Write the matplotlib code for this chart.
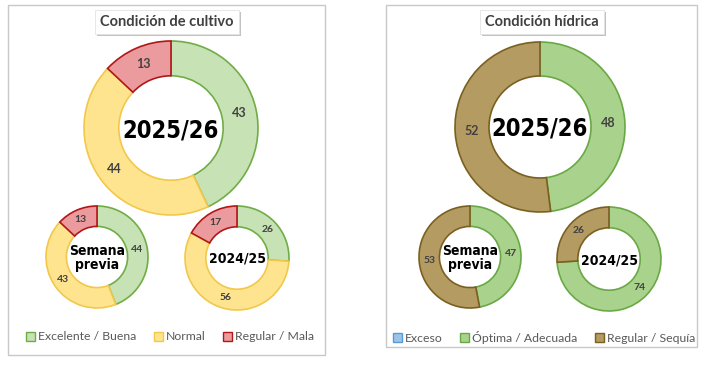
import matplotlib
matplotlib.use("Agg")
import numpy as np
import matplotlib.pyplot as plt
from matplotlib.patches import Rectangle, Patch
from matplotlib import font_manager as fm
import matplotlib.patheffects as pe

# ---------------- data ----------------
cult_labels = ["Excelente / Buena", "Normal", "Regular / Mala"]
cult_2526 = [43, 44, 13]
cult_prev = [44, 43, 13]
cult_2425 = [26, 57, 17]
cult_2425_text = ["26", "56", "17"]

hid_labels = ["Exceso", "Óptima / Adecuada", "Regular / Sequía"]
hid_2526 = [0, 48, 52]
hid_prev = [0, 47, 53]
hid_2425 = [0, 74, 26]

titles = ["Condición de cultivo", "Condición hídrica"]
center_texts = ["2025/26", "Semana\nprevia", "2024/25"]

cult_face = ["#c7e2b4", "#ffe48f", "#eb9b9d"]
cult_edge = ["#70ad47", "#f2c84b", "#b01818"]
hid_face = ["#9dc3e6", "#a9d38c", "#b49b62"]
hid_edge = ["#5b9bd5", "#6aa846", "#7a6020"]

names = {f.name for f in fm.fontManager.ttflist}
def pick(*c):
    for x in c:
        if x in names:
            return x
    return "DejaVu Sans"
TXT = pick("Lato", "Open Sans", "DejaVu Sans")

W, H = 707, 365
fig = plt.figure(figsize=(W / 100, H / 100), dpi=100)
ax = fig.add_axes([0, 0, 1, 1])

def Y(y):
    return H - y

INNER = 0.6

def donut(vals, face, edge, cx, cy, r, fs, fw, txts=None):
    if txts is None:
        txts = [str(v) for v in vals]
    items = [(v, f, e, t) for v, f, e, t in zip(vals, face, edge, txts) if v > 0]
    v = [a[0] for a in items]
    wedges, _ = ax.pie(v, colors=[a[1] for a in items], startangle=90,
                       counterclock=False, center=(cx, Y(cy)), radius=r,
                       wedgeprops=dict(width=r * (1 - INNER), linewidth=1.2),
                       frame=True)
    for w, a in zip(wedges, items):
        w.set_edgecolor(a[2])
    tot = sum(v)
    ang = 90.0
    rr = r * (1 + INNER) / 2
    for val, a in zip(v, items):
        mid = ang - 360.0 * val / tot / 2
        ang -= 360.0 * val / tot
        ax.text(cx + rr * np.cos(np.radians(mid)), Y(cy) + rr * np.sin(np.radians(mid)),
                a[3], ha="center", va="center", fontsize=fs, color="#404040",
                fontweight=fw, family=TXT)

def center(txt, cx, cy, fs):
    ax.text(cx, Y(cy), txt, ha="center", va="center", fontsize=fs,
            fontweight="bold", family="DejaVu Sans", fontstretch="condensed",
            color="black", linespacing=1.05)

def panel(x0, y0, x1, y1):
    ax.add_patch(Rectangle((x0, Y(y1)), x1 - x0, y1 - y0, facecolor="white",
                           edgecolor="#c8c8c8", linewidth=1.0, zorder=0))

def title(txt, cx, cy):
    t = ax.text(cx, Y(cy), txt, ha="center", va="center", fontsize=10.5,
                color="#404040", family=TXT, fontweight="bold",
                bbox=dict(boxstyle="square,pad=0.35", facecolor="white",
                          edgecolor="#e3e3e3", linewidth=0.6), zorder=4)
    t.get_bbox_patch().set_path_effects(
        [pe.SimplePatchShadow(offset=(1.5, -1.5), shadow_rgbFace="#9a9a9a", alpha=0.6),
         pe.Normal()])

# panels
panel(8, 5, 325, 355)
panel(386, 5, 697, 347)

# left panel
title(titles[0], 167, 22)
donut(cult_2526, cult_face, cult_edge, 171, 128, 87, 9, "bold")
center(center_texts[0], 171, 130, 17)
donut(cult_prev, cult_face, cult_edge, 97, 257, 51, 7.5, "bold")
center(center_texts[1], 97, 258, 10)
donut(cult_2425, cult_face, cult_edge, 237, 258, 52, 7.5, "bold", cult_2425_text)
center(center_texts[2], 237, 259, 10)

# right panel
title(titles[1], 542, 22)
donut(hid_2526, hid_face, hid_edge, 540, 127, 85, 9, "bold")
center(center_texts[0], 540, 129, 17)
donut(hid_prev, hid_face, hid_edge, 470, 257, 51, 7.5, "bold")
center(center_texts[1], 470, 258, 10)
donut(hid_2425, hid_face, hid_edge, 609, 259, 52, 7.5, "bold")
center(center_texts[2], 609, 260, 10)

ax.set_xlim(0, W)
ax.set_ylim(0, H)
ax.set_aspect("equal")
ax.axis("off")

def legend(labels, face, edge, cx, cy):
    handles = [Patch(facecolor=f, edgecolor=e, linewidth=1.0, label=l)
               for l, f, e in zip(labels, face, edge)]
    lg = ax.legend(handles=handles, loc="center", bbox_to_anchor=(cx, Y(cy)),
                   bbox_transform=ax.transData, ncol=3, frameon=False,
                   handlelength=0.75, handleheight=0.75, handletextpad=0.25,
                   columnspacing=1.4, borderpad=0, prop=dict(family=TXT, size=8.8))
    for t in lg.get_texts():
        t.set_color("#595959")
    return lg

lg1 = legend(cult_labels, cult_face, cult_edge, 170, 337)
ax.add_artist(lg1)
legend(hid_labels, hid_face, hid_edge, 544, 337)

fig.savefig("out.png", dpi=100, facecolor="white")
